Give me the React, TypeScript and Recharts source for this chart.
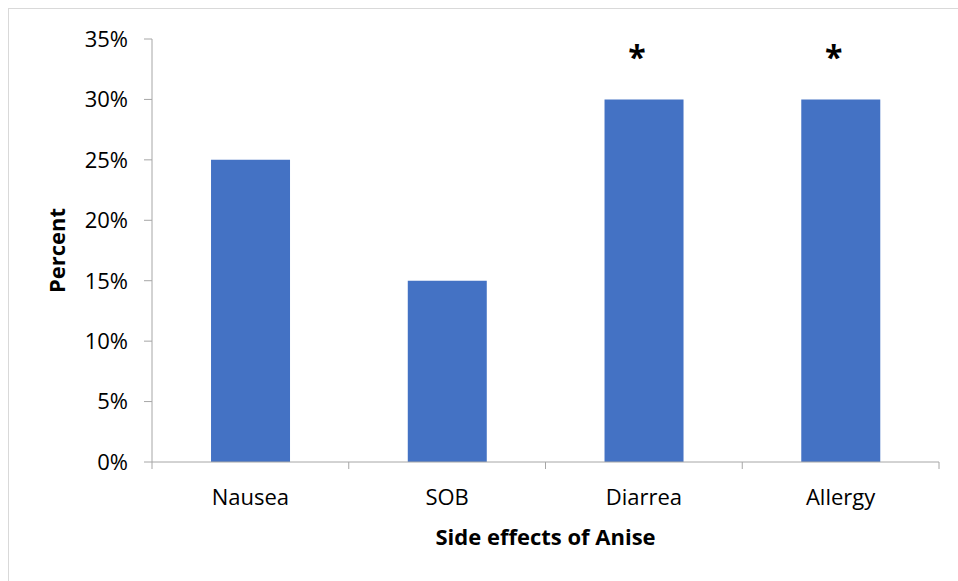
import React from 'react';
import { BarChart, Bar, XAxis, YAxis, LabelList } from 'recharts';

const categories = ['Nausea', 'SOB', 'Diarrea', 'Allergy'];
const percentValues = [0.25, 0.15, 0.30, 0.30];
const significanceMarks = ['', '', '*', '*'];
const yTicks = [0, 0.05, 0.1, 0.15, 0.2, 0.25, 0.3, 0.35];

const data = categories.map((name, i) => ({
  name,
  value: percentValues[i],
  mark: significanceMarks[i],
}));

const W = 958;
const H = 581;
const MARGIN = { top: 39, right: 19, left: 0, bottom: 34 };
const Y_AXIS_W = 152;
const X_AXIS_H = 85;
const PLOT_W = W - MARGIN.left - MARGIN.right - Y_AXIS_W;
const HALF_BAND = PLOT_W / categories.length / 2;
const FONT = '"Open Sans", "Noto Sans", sans-serif';
const AXIS_COLOR = '#a6a6a6';

const XTick = (props: any) => {
  const { x, y, payload, index } = props;
  const axisY = y - 8;
  return (
    <g>
      <line x1={x - HALF_BAND} x2={x - HALF_BAND} y1={axisY} y2={axisY + 7} stroke={AXIS_COLOR} strokeWidth={1} />
      {index === categories.length - 1 && (
        <line x1={x + HALF_BAND} x2={x + HALF_BAND} y1={axisY} y2={axisY + 7} stroke={AXIS_COLOR} strokeWidth={1} />
      )}
      <text x={x} y={axisY + 43} textAnchor="middle" fontFamily={FONT} fontSize={22} fill="#000">
        {payload.value}
      </text>
    </g>
  );
};

const MarkLabel = (props: any) => {
  const { x, y, width, value } = props;
  if (!value) return null;
  return (
    <text x={x + width / 2 - 7} y={y - 30} textAnchor="middle" fontFamily={FONT} fontWeight="bold" fontSize={32} fill="#000">
      {value}
    </text>
  );
};

export default function App() {
  return (
    <div style={{ position: 'absolute', left: 0, top: 0, width: W, height: H, overflow: 'hidden', background: '#fff' }}>
      <div style={{ position: 'absolute', left: 8, top: 8, width: W, height: H, border: '1px solid #d9d9d9', boxSizing: 'border-box' }} />
      <div style={{ position: 'absolute', left: 0, top: 0 }}>
        <BarChart width={W} height={H} data={data} margin={MARGIN} barCategoryGap="30%">
          <XAxis
            dataKey="name"
            height={X_AXIS_H}
            axisLine={{ stroke: AXIS_COLOR }}
            tickLine={false}
            tick={<XTick />}
            interval={0}
            label={(p: any) => {
              const vb = p.viewBox;
              return (
                <text x={vb.x + vb.width / 2} y={545} textAnchor="middle" fontFamily={FONT} fontWeight="bold" fontSize={22} fill="#000">
                  Side effects of Anise
                </text>
              );
            }}
          />
          <YAxis
            width={Y_AXIS_W}
            domain={[0, 0.35]}
            ticks={yTicks}
            interval={0}
            axisLine={{ stroke: AXIS_COLOR }}
            tickLine={{ stroke: AXIS_COLOR }}
            tickSize={8}
            tickMargin={16}
            tickFormatter={(v: number) => `${Math.round(v * 100)}%`}
            tick={{ fontFamily: FONT, fontSize: 22, fill: '#000' }}
            label={(p: any) => {
              const vb = p.viewBox;
              const cy = vb.y + vb.height / 2;
              return (
                <text x={65} y={cy} transform={`rotate(-90, 65, ${cy})`} textAnchor="middle" fontFamily={FONT} fontWeight="bold" fontSize={22} fill="#000">
                  Percent
                </text>
              );
            }}
          />
          <Bar dataKey="value" fill="#4472C4" isAnimationActive={false}>
            <LabelList dataKey="mark" content={<MarkLabel />} />
          </Bar>
        </BarChart>
      </div>
    </div>
  );
}
